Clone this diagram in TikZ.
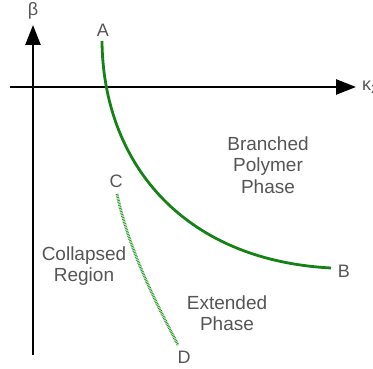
\documentclass[tikz,border=0pt]{standalone}
\usepackage{fontspec}
\setmainfont{Liberation Sans}
\usetikzlibrary{arrows.meta}
\definecolor{curvegreen}{RGB}{20,130,20}
\definecolor{dotgreen}{RGB}{40,150,40}
\definecolor{labgray}{RGB}{85,85,85}

\begin{document}
\begin{tikzpicture}[x=1pt, y=-1pt,
    axis/.style={line width=2.6pt, -{Triangle[length=20pt, width=15pt]}},
    phase/.style={line width=2.8pt, draw=curvegreen},
    transition/.style={line width=2.8pt, draw=dotgreen, dash pattern=on 0.8pt off 0.8pt},
    lab/.style={text=labgray, font=\fontsize{18}{21.5}\selectfont, inner sep=0pt},
    region/.style={lab, font=\fontsize{19}{21.5}\selectfont, align=center}
  ]
    \useasboundingbox (0,0) rectangle (373,369);

    % axes
    \coordinate (ybot) at (33,355);
    \coordinate (ytop) at (33,25);
    \coordinate (xleft) at (10,87);
    \coordinate (xright) at (356,87);
    \draw[axis] (ybot) -- (ytop);
    \draw[axis] (xleft) -- (xright);
    \node[lab] (beta) at (33,11) {β};
    \node[lab, anchor=west] (kappa) at (362,87) {κ\textsubscript{2}};

    % transition lines
    \coordinate (a) at (102,41);
    \coordinate (b) at (331,268);
    \coordinate (c) at (117,194);
    \coordinate (d) at (178,345);
    \node[lab] (A) at (103,30) {A};
    \node[lab] (B) at (344,271) {B};
    \node[lab] (C) at (116,181) {C};
    \node[lab] (D) at (184,357) {D};
    \draw[phase] (a) .. controls (103,160) and (180,260) .. (b);
    \draw[transition] (c) .. controls (130,255) and (160,310) .. (d);

    % regions
    \node[region] (branched) at (268,165) {Branched\\Polymer\\Phase};
    \node[region] (collapsed) at (84,266) {Collapsed\\Region};
    \node[region] (extended) at (227,313) {Extended\\Phase};
\end{tikzpicture}
\end{document}
